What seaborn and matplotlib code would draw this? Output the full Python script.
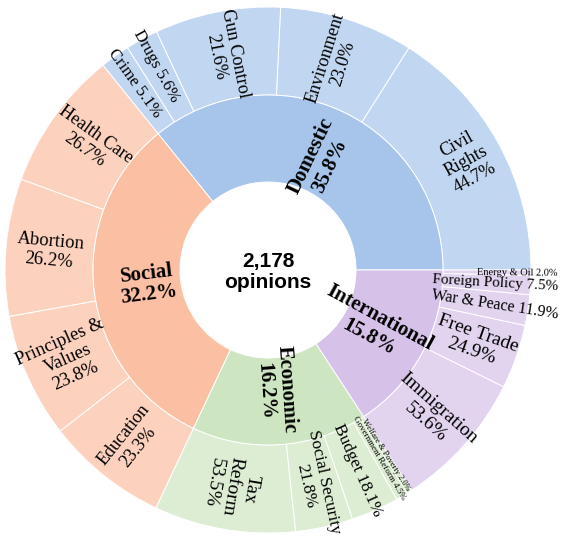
import numpy as np
import matplotlib
matplotlib.use("Agg")
import matplotlib.pyplot as plt
import seaborn as sns

sns.set_theme(style="white")
plt.rcParams['font.family'] = ['Liberation Serif', 'DejaVu Serif']
plt.rcParams['text.color'] = 'black'

# ---------------- data ----------------
categories = ["Domestic", "Social", "Economic", "International"]
category_pct = [35.8, 32.2, 16.2, 15.8]

sub_names = {
    "Domestic": ["Civil\nRights", "Environment", "Gun Control", "Drugs", "Crime"],
    "Social": ["Health Care", "Abortion", "Principles &\nValues", "Education"],
    "Economic": ["Tax\nReform", "Social Security", "Budget", "Government Reform",
                 "Welfare & Poverty"],
    "International": ["Immigration", "Free Trade", "War & Peace", "Foreign Policy",
                      "Energy & Oil"],
}
sub_pct = {
    "Domestic": [44.7, 23.0, 21.6, 5.6, 5.1],
    "Social": [26.7, 26.2, 23.8, 23.3],
    "Economic": [53.5, 21.8, 18.1, 4.5, 2.0],
    "International": [53.6, 24.9, 11.9, 7.5, 2.0],
}
total_opinions = 2178

# ---------------- style ----------------
base_colors = {
    "Domestic": "#a7c4ea",
    "Social": "#fbbfa3",
    "Economic": "#cde5c0",
    "International": "#d6c1e8",
}
leaf_alpha = 0.7
single_line = {"Drugs", "Crime", "Budget", "Government Reform", "Welfare & Poverty",
               "War & Peace", "Foreign Policy", "Energy & Oil"}
sub_font = {
    "Civil\nRights": 13, "Environment": 13, "Gun Control": 13, "Drugs": 12, "Crime": 12,
    "Health Care": 13, "Abortion": 13.5, "Principles &\nValues": 13.5, "Education": 13,
    "Tax\nReform": 14, "Social Security": 12.5, "Budget": 12.5,
    "Government Reform": 6.5, "Welfare & Poverty": 6,
    "Immigration": 14, "Free Trade": 14, "War & Peace": 11.5, "Foreign Policy": 11,
    "Energy & Oil": 7.5,
}
sub_radius = {"Energy & Oil": 249, "Foreign Policy": 228, "War & Peace": 230,
              "Drugs": 232, "Crime": 229, "Civil\nRights": 226}

W, H = 563, 542
cx, cy = 268, H - 270
R_outer, R_mid, R_hole = 263, 175, 88
ring_w = R_outer - R_mid

fig = plt.figure(figsize=(W / 100, H / 100), dpi=100)
ax = fig.add_axes([0, 0, 1, 1])
ax.set_xlim(0, W)
ax.set_ylim(0, H)
ax.set_aspect("equal")
ax.axis("off")

def lighten(c, a):
    rgb = np.array(matplotlib.colors.to_rgb(c))
    return tuple(rgb * a + (1 - a))

# outer ring wedge sizes derived from data
outer_sizes, outer_colors, outer_labels = [], [], []
for cat, cp in zip(categories, category_pct):
    vals = np.array(sub_pct[cat])
    for name, v in zip(sub_names[cat], vals):
        outer_sizes.append(cp * v / vals.sum())
        outer_colors.append(lighten(base_colors[cat], leaf_alpha))
        outer_labels.append((name, v))

wedges_out, _ = ax.pie(outer_sizes, radius=R_outer, center=(cx, cy), startangle=0,
                       counterclock=True, colors=outer_colors,
                       wedgeprops=dict(width=ring_w, edgecolor="white", linewidth=0.7))
wedges_in, _ = ax.pie(category_pct, radius=R_mid, center=(cx, cy), startangle=0,
                      counterclock=True, colors=[base_colors[c] for c in categories],
                      wedgeprops=dict(width=R_mid - R_hole, edgecolor="white", linewidth=0.7))
ax.set_xlim(0, W)
ax.set_ylim(0, H)

def rot_for(mid):
    mid = mid % 360
    if 90 < mid < 255:
        return mid - 180
    if mid >= 255:
        return mid - 360
    return mid

for w, (name, v) in zip(wedges_out, outer_labels):
    mid = (w.theta1 + w.theta2) / 2
    r = sub_radius.get(name, 219)
    x = cx + r * np.cos(np.radians(mid))
    y = cy + r * np.sin(np.radians(mid))
    sep = " " if name in single_line else "\n"
    ax.text(x, y, f"{name}{sep}{v:.1f}%", rotation=rot_for(mid), rotation_mode="anchor",
            ha="center", va="center", fontsize=sub_font[name], color="black",
            linespacing=1.15)

for w, cat, cp in zip(wedges_in, categories, category_pct):
    mid = (w.theta1 + w.theta2) / 2
    r = 121
    x = cx + r * np.cos(np.radians(mid))
    y = cy + r * np.sin(np.radians(mid))
    ax.text(x, y, f"{cat}\n{cp:.1f}%", rotation=rot_for(mid), rotation_mode="anchor",
            ha="center", va="center", fontsize=15, fontweight="bold", color="black",
            linespacing=1.1)

ax.text(cx, cy - 2, f"{total_opinions:,}\nopinions", ha="center", va="center",
        fontsize=15, fontweight="heavy", color="black",
        family=["Liberation Sans", "DejaVu Sans"], linespacing=1.15)

fig.savefig("out.png", dpi=100)
